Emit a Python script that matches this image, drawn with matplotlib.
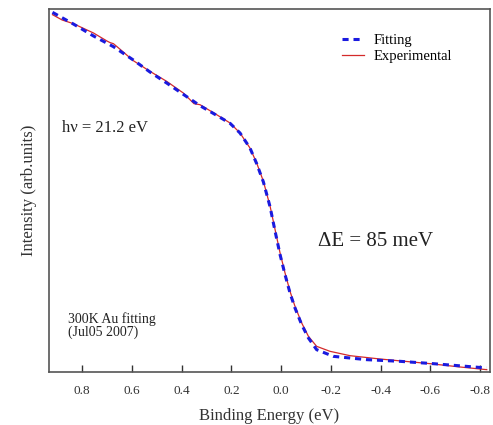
import numpy as np
import matplotlib
matplotlib.use("Agg")
import matplotlib.pyplot as plt

plt.rcParams["font.family"] = ["Liberation Serif", "DejaVu Serif"]

# Binding energy (eV) and intensity (arb. units)
exp_energy = [0.919, 0.880, 0.835, 0.754, 0.700, 0.687, 0.674, 0.650, 0.594, 0.527,
              0.46, 0.393, 0.35, 0.326, 0.259, 0.205, 0.165, 0.125, 0.098, 0.071,
              0.044, 0.024, 0.004, -0.016, -0.036, -0.056, -0.083, -0.11, -0.143,
              -0.197, -0.277, -0.398, -0.599, -0.72, -0.827]
exp_intensity = [107.2, 105.6, 104.5, 101.7, 99.3, 98.8, 98.5, 97.0, 93.4, 90.2,
                 87.2, 83.7, 80.5, 80.2, 77.2, 74.7, 71.7, 67.2, 62.7, 57.2,
                 49.7, 42.7, 35.7, 29.7, 24.2, 19.7, 14.7, 10.7, 7.7,
                 6.2, 4.9, 3.9, 2.5, 1.5, 0.7]

fit_energy = [0.919, 0.835, 0.754, 0.674, 0.594, 0.527, 0.46, 0.393, 0.326, 0.259,
              0.205, 0.165, 0.125, 0.098, 0.071, 0.044, 0.024, 0.004, -0.016, -0.036,
              -0.056, -0.083, -0.11, -0.143, -0.21, -0.277, -0.345, -0.479, -0.612,
              -0.827]
fit_intensity = [107.9, 104.4, 100.8, 97.6, 93.6, 90.0, 86.7, 83.3, 79.9, 77.0,
                 74.6, 71.7, 67.2, 62.5, 57.0, 49.5, 42.2, 35.2, 29.2, 23.7,
                 19.2, 14.2, 10.2, 6.7, 4.7, 4.2, 3.7, 3.2, 2.5,
                 1.2]

fig = plt.figure(figsize=(4.93, 4.25), dpi=100)
ax = fig.add_axes([0.0994, 0.1247, 0.8945, 0.8541])

ax.plot(fit_energy, fit_intensity, color="#1a1adf", lw=2.2, ls=(0, (2, 1.6)),
        label="Fitting", zorder=3)
ax.plot(exp_energy, exp_intensity, color="#d42a2a", lw=0.9,
        label="Experimental", zorder=2)

ax.set_xlim(0.933, -0.84)
ax.set_ylim(0, 108.9)
ax.set_xticks([0.8, 0.6, 0.4, 0.2, 0.0, -0.2, -0.4, -0.6, -0.8])
ax.set_xticklabels(["0.8", "0.6", "0.4", "0.2", "0.0", "-0.2", "-0.4", "-0.6", "-0.8"])
ax.set_yticks([])
ax.tick_params(axis="x", direction="in", length=5, width=1, pad=9,
               labelsize=9.5, colors="#333333")
for s in ax.spines.values():
    s.set_color("#555555")
    s.set_linewidth(1.2)

ax.set_xlabel("Binding Energy (eV)", fontsize=12, color="#333333", labelpad=8)
ax.set_ylabel("Intensity (arb.units)", fontsize=12, color="#333333", labelpad=9)

ax.text(0.0295, 0.672, "h\u03bd = 21.2 eV", transform=ax.transAxes,
        fontsize=12, color="#222222", va="center")
ax.text(0.61, 0.36, "\u0394E = 85 meV", transform=ax.transAxes,
        fontsize=15, color="#222222", va="center")
ax.text(0.043, 0.128, "300K Au fitting\n(Jul05 2007)", transform=ax.transAxes,
        fontsize=10, color="#222222", va="center", linespacing=1.0)

ax.legend(loc="upper left", bbox_to_anchor=(0.664, 0.931), frameon=False,
          borderaxespad=0, borderpad=0, fontsize=10.5, handlelength=1.5,
          labelspacing=0.2, handletextpad=0.7)

fig.savefig("out.png", dpi=100)
